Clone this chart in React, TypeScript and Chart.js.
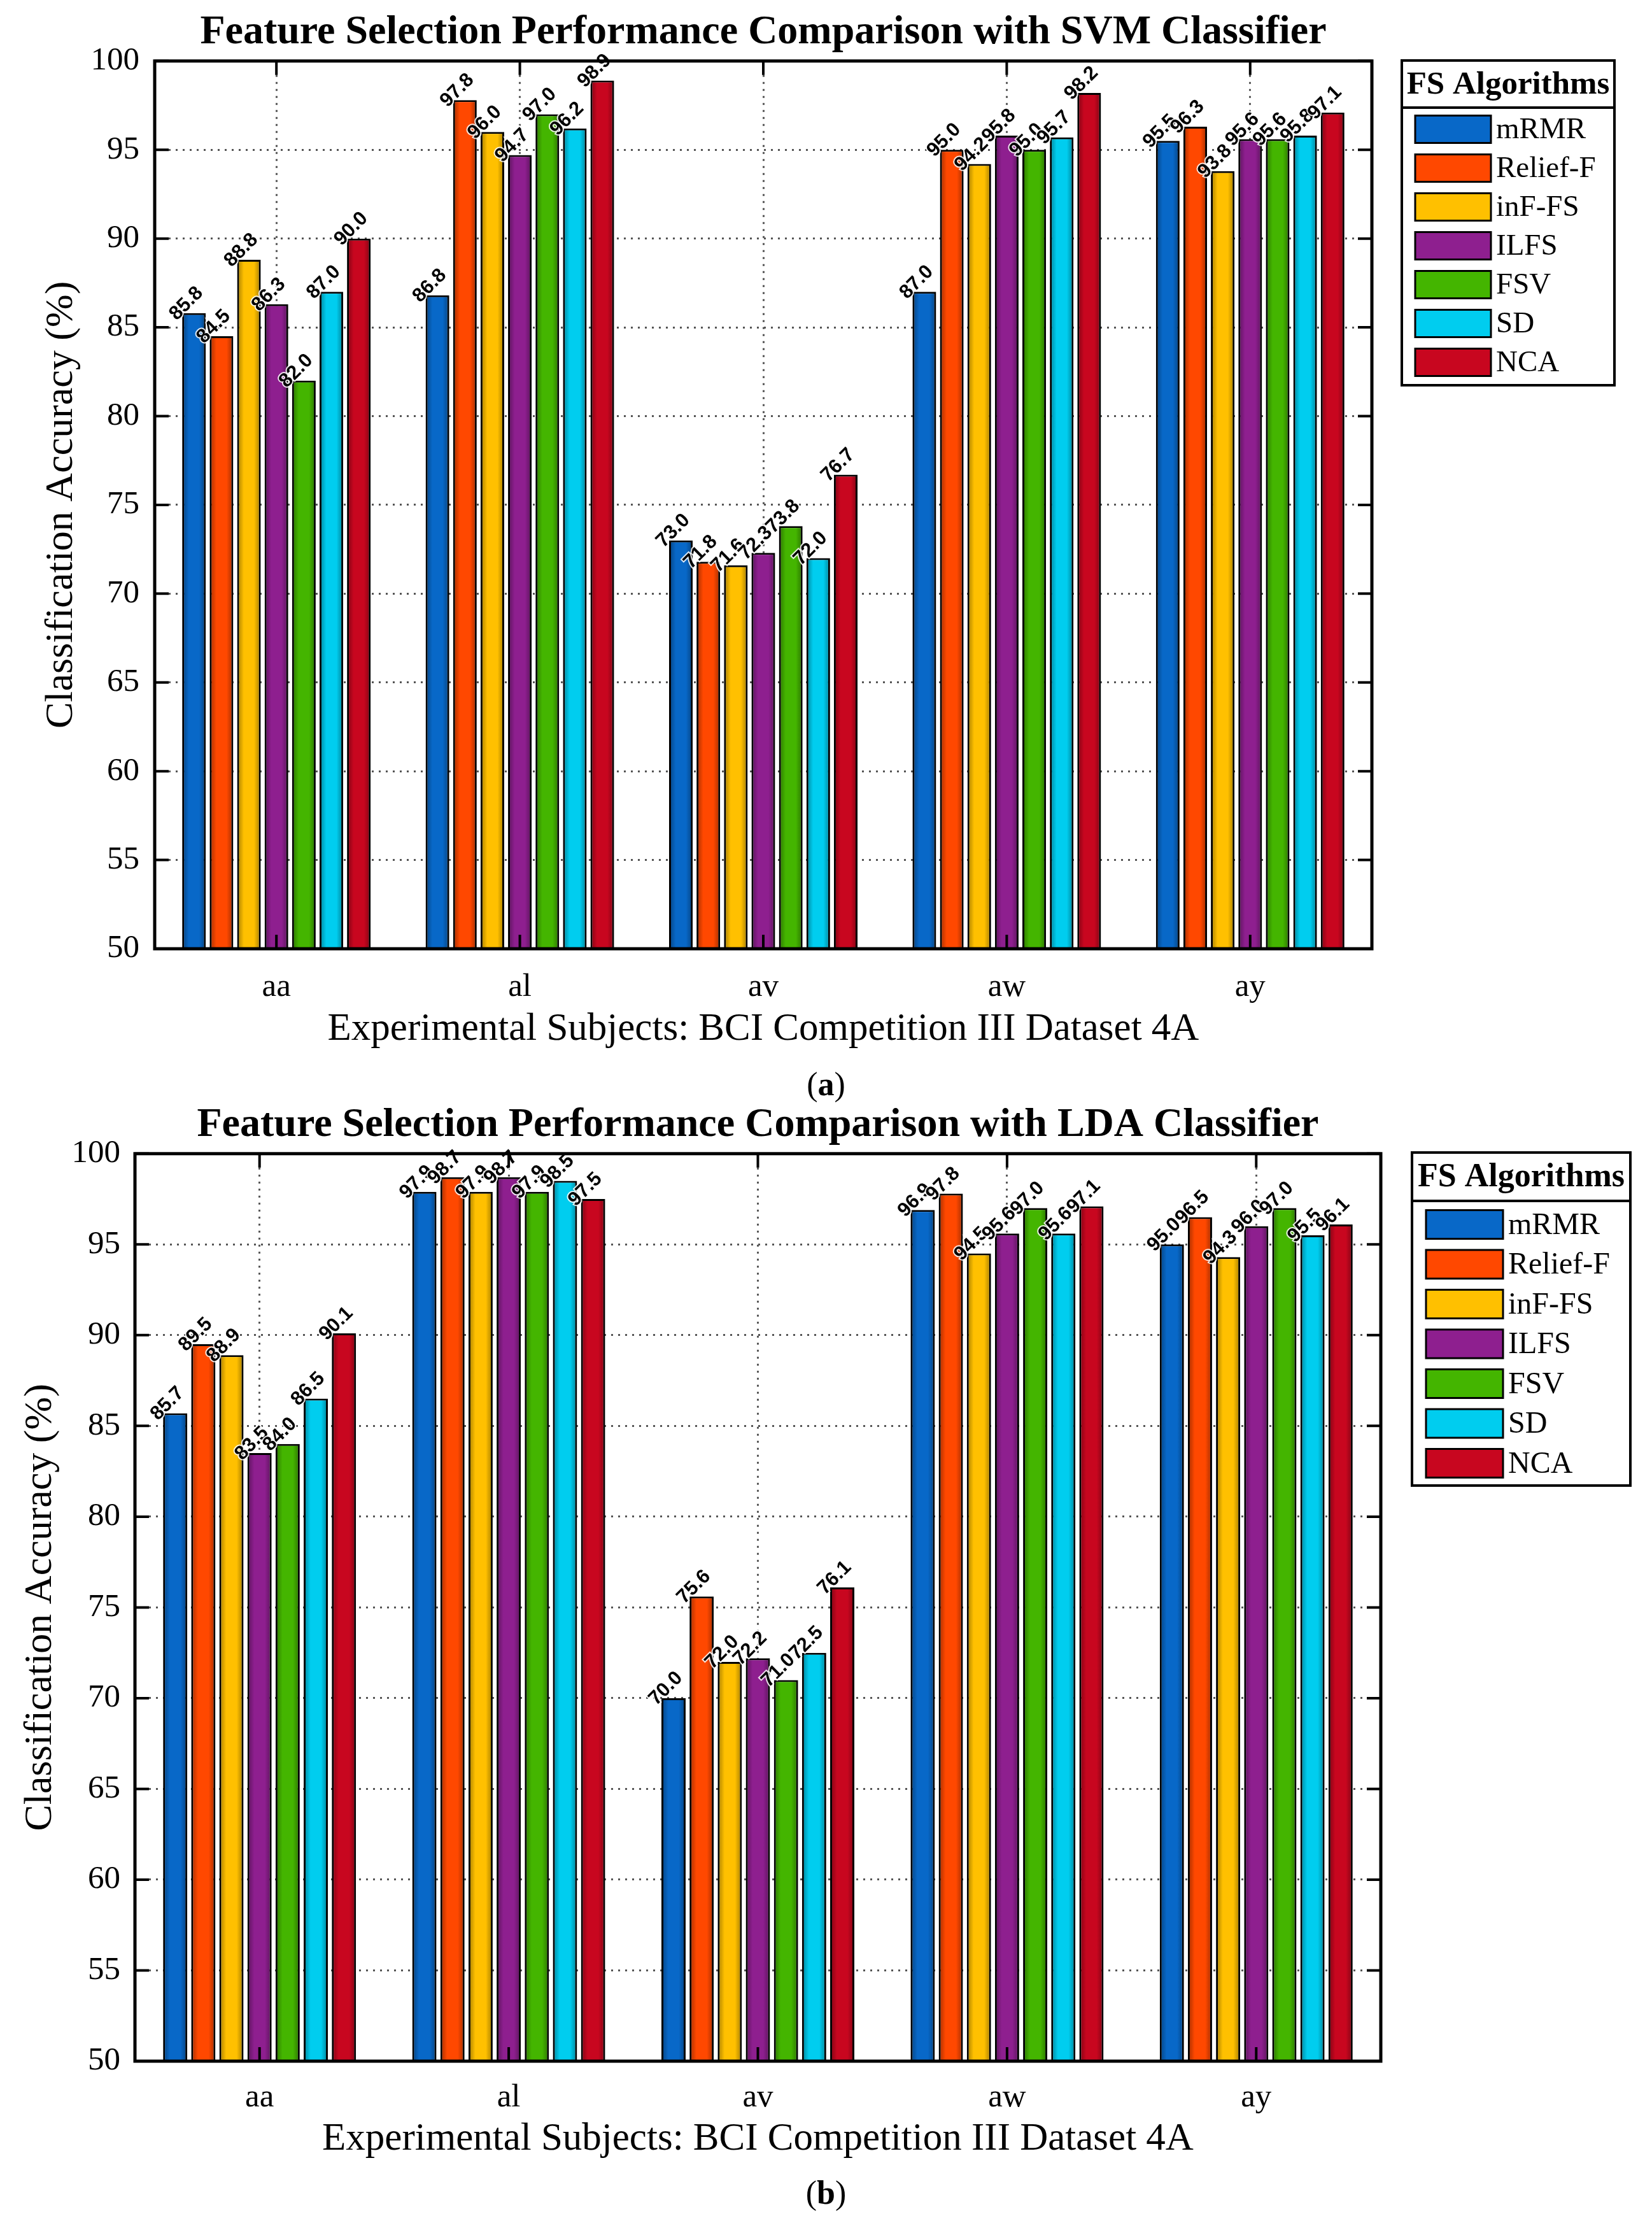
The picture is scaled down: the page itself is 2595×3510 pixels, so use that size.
import React, { useEffect, useRef } from 'react';
import { Chart, registerables } from 'chart.js';

Chart.register(...registerables);

// subjects on the x axis and the feature selection algorithms (series)
const subjects = ['aa', 'al', 'av', 'aw', 'ay'];
const algorithms = ['mRMR', 'Relief-F', 'inF-FS', 'ILFS', 'FSV', 'SD', 'NCA'];
const algorithmColors = ['#0868C8', '#FF4800', '#FFC000', '#8E1F8F', '#44B500', '#00CDEF', '#C8061F'];

// y axis ticks
const yMin = 50;
const yMax = 100;
const yStep = 5;

// (a) SVM classifier accuracy (%) per subject
const svmMrmr = [85.8, 86.8, 73.0, 87.0, 95.5];
const svmReliefF = [84.5, 97.8, 71.8, 95.0, 96.3];
const svmInfFs = [88.8, 96.0, 71.6, 94.2, 93.8];
const svmIlfs = [86.3, 94.7, 72.3, 95.8, 95.6];
const svmFsv = [82.0, 97.0, 73.8, 95.0, 95.6];
const svmSd = [87.0, 96.2, 72.0, 95.7, 95.8];
const svmNca = [90.0, 98.9, 76.7, 98.2, 97.1];

// (b) LDA classifier accuracy (%) per subject
const ldaMrmr = [85.7, 97.9, 70.0, 96.9, 95.0];
const ldaReliefF = [89.5, 98.7, 75.6, 97.8, 96.5];
const ldaInfFs = [88.9, 97.9, 72.0, 94.5, 94.3];
const ldaIlfs = [83.5, 98.7, 72.2, 95.6, 96.0];
const ldaFsv = [84.0, 97.9, 71.0, 97.0, 97.0];
const ldaSd = [86.5, 98.5, 72.5, 95.6, 95.5];
const ldaNca = [90.1, 97.5, 76.1, 97.1, 96.1];

const SERIF = '"Liberation Serif", "Times New Roman", serif';
const SANS = '"Liberation Sans", Arial, sans-serif';

interface LegendBox {
  x: number;
  y: number;
  w: number;
  h: number;
  headerH: number;
  firstRow: number;
  rowH: number;
  swX: number;
  swW: number;
  swH: number;
  textX: number;
  fontSize: number;
}

interface PanelProps {
  title: string;
  series: number[][];
  top: number;
  height: number;
  yWidth: number;
  yTitlePad: number;
  yTickPad: number;
  padRight: number;
  titlePadTop: number;
  titlePadBottom: number;
  xHeight: number;
  xTickPad: number;
  xTitlePadBottom: number;
  legend: LegendBox;
}

const BarPanel: React.FC<PanelProps> = (p) => {
  const canvasRef = useRef<HTMLCanvasElement>(null);

  useEffect(() => {
    if (!canvasRef.current) return;

    // box around the plot, with the short inward tick marks
    const framePlugin = {
      id: 'frame',
      afterDraw(chart: any) {
        const { ctx, chartArea: a, scales } = chart;
        ctx.save();
        ctx.strokeStyle = '#000';
        ctx.lineWidth = 4;
        const tl = 22;
        scales.y.ticks.forEach((_t: any, i: number) => {
          const y = scales.y.getPixelForTick(i);
          ctx.beginPath();
          ctx.moveTo(a.left, y);
          ctx.lineTo(a.left + tl, y);
          ctx.moveTo(a.right, y);
          ctx.lineTo(a.right - tl, y);
          ctx.stroke();
        });
        scales.x.ticks.forEach((_t: any, i: number) => {
          const x = scales.x.getPixelForTick(i);
          ctx.beginPath();
          ctx.moveTo(x, a.top);
          ctx.lineTo(x, a.top + tl);
          ctx.moveTo(x, a.bottom);
          ctx.lineTo(x, a.bottom - tl);
          ctx.stroke();
        });
        ctx.lineWidth = 5;
        ctx.strokeRect(a.left, a.top, a.right - a.left, a.bottom - a.top);
        ctx.restore();
      },
    };

    // soft edge shading on each bar, then the rotated value labels
    const valuePlugin = {
      id: 'values',
      afterDatasetsDraw(chart: any) {
        const { ctx, chartArea: a } = chart;
        ctx.save();
        ctx.beginPath();
        ctx.rect(a.left, a.top, a.right - a.left, a.bottom - a.top);
        ctx.clip();
        chart.data.datasets.forEach((_ds: any, di: number) => {
          chart.getDatasetMeta(di).data.forEach((bar: any) => {
            const left = bar.x - bar.width / 2 + 2.5;
            const w = bar.width - 5;
            const bottom = Math.min(bar.base, a.bottom);
            const g = ctx.createLinearGradient(left, 0, left + w, 0);
            g.addColorStop(0, 'rgba(0,0,0,0.28)');
            g.addColorStop(0.25, 'rgba(0,0,0,0)');
            g.addColorStop(0.75, 'rgba(0,0,0,0)');
            g.addColorStop(1, 'rgba(0,0,0,0.28)');
            ctx.fillStyle = g;
            ctx.fillRect(left, bar.y + 2.5, w, bottom - bar.y - 2.5);
          });
        });
        ctx.restore();

        ctx.save();
        ctx.font = `bold 31px ${SANS}`;
        ctx.textAlign = 'center';
        ctx.textBaseline = 'middle';
        chart.data.datasets.forEach((ds: any, di: number) => {
          const meta = chart.getDatasetMeta(di);
          meta.data.forEach((bar: any, i: number) => {
            const txt = Number(ds.data[i]).toFixed(1);
            ctx.save();
            ctx.translate(bar.x - 12, bar.y - 15);
            ctx.rotate(-Math.PI / 4);
            ctx.lineWidth = 4;
            ctx.strokeStyle = 'rgba(255,255,255,0.85)';
            ctx.strokeText(txt, 0, 0);
            ctx.fillStyle = '#000';
            ctx.fillText(txt, 0, 0);
            ctx.restore();
          });
        });
        ctx.restore();
      },
    };

    // legend box on the right with a header
    const L = p.legend;
    const legendPlugin = {
      id: 'fsLegend',
      afterDraw(chart: any) {
        const { ctx } = chart;
        ctx.save();
        ctx.fillStyle = '#fff';
        ctx.fillRect(L.x, L.y, L.w, L.h);
        ctx.strokeStyle = '#000';
        ctx.lineWidth = 4;
        ctx.strokeRect(L.x, L.y, L.w, L.h);
        ctx.beginPath();
        ctx.moveTo(L.x, L.y + L.headerH);
        ctx.lineTo(L.x + L.w, L.y + L.headerH);
        ctx.stroke();
        ctx.fillStyle = '#000';
        ctx.textBaseline = 'middle';
        ctx.textAlign = 'center';
        ctx.font = `bold ${L.fontSize + 4}px ${SERIF}`;
        ctx.fillText('FS Algorithms', L.x + L.w / 2, L.y + L.headerH / 2 + 2);
        ctx.textAlign = 'left';
        ctx.font = `${L.fontSize}px ${SERIF}`;
        algorithms.forEach((name, i) => {
          const cy = L.firstRow + i * L.rowH;
          ctx.fillStyle = algorithmColors[i];
          ctx.fillRect(L.swX, cy - L.swH / 2, L.swW, L.swH);
          ctx.lineWidth = 3;
          ctx.strokeRect(L.swX, cy - L.swH / 2, L.swW, L.swH);
          ctx.fillStyle = '#000';
          ctx.fillText(name, L.textX, cy + 2);
        });
        ctx.restore();
      },
    };

    const chart = new Chart(canvasRef.current, {
      type: 'bar',
      data: {
        labels: subjects,
        datasets: algorithms.map((name, i) => ({
          label: name,
          data: p.series[i],
          backgroundColor: algorithmColors[i],
          borderColor: '#000',
          borderWidth: 3,
          borderSkipped: false,
          categoryPercentage: 0.79,
          barPercentage: 0.86,
        })),
      },
      options: {
        responsive: false,
        animation: false,
        devicePixelRatio: 1,
        layout: { padding: { left: 0, right: p.padRight, top: 0, bottom: 0 } },
        plugins: {
          legend: { display: false },
          tooltip: { enabled: false },
          title: {
            display: true,
            text: p.title,
            fullSize: false,
            color: '#000',
            font: { family: SERIF, size: 64, weight: 'bold' },
            padding: { top: p.titlePadTop, bottom: p.titlePadBottom },
          },
        },
        scales: {
          x: {
            offset: true,
            afterFit: (scale: any) => {
              scale.height = p.xHeight;
            },
            grid: { offset: false, color: '#555', lineWidth: 3, drawTicks: false },
            border: { display: false, dash: [3, 8] },
            ticks: {
              color: '#000',
              autoSkip: false,
              maxRotation: 0,
              padding: p.xTickPad,
              font: { family: SERIF, size: 51 },
            },
            title: {
              display: true,
              text: 'Experimental Subjects: BCI Competition III Dataset 4A',
              color: '#000',
              font: { family: SERIF, size: 61 },
              padding: { top: 0, bottom: p.xTitlePadBottom },
            },
          },
          y: {
            min: yMin,
            max: yMax,
            afterFit: (scale: any) => {
              scale.width = p.yWidth;
            },
            grid: { color: '#555', lineWidth: 3, drawTicks: false },
            border: { display: false, dash: [3, 8] },
            ticks: {
              stepSize: yStep,
              color: '#000',
              padding: p.yTickPad,
              font: { family: SERIF, size: 51 },
            },
            title: {
              display: true,
              text: 'Classification Accuracy (%)',
              color: '#000',
              font: { family: SERIF, size: 62 },
              padding: { top: p.yTitlePad, bottom: 0 },
            },
          },
        },
      },
      plugins: [framePlugin, valuePlugin, legendPlugin],
    });

    return () => {
      chart.destroy();
    };
  }, [p]);

  return (
    <canvas
      ref={canvasRef}
      width={2595}
      height={p.height}
      style={{ position: 'absolute', left: 0, top: p.top, width: 2595, height: p.height }}
    />
  );
};

const svmSeries = [svmMrmr, svmReliefF, svmInfFs, svmIlfs, svmFsv, svmSd, svmNca];
const ldaSeries = [ldaMrmr, ldaReliefF, ldaInfFs, ldaIlfs, ldaFsv, ldaSd, ldaNca];

const panelA: PanelProps = {
  title: 'Feature Selection Performance Comparison with SVM Classifier',
  series: svmSeries,
  top: 0,
  height: 1665,
  yWidth: 243,
  yTitlePad: 60,
  yTickPad: 24,
  padRight: 440,
  titlePadTop: 13,
  titlePadBottom: 6,
  xHeight: 175,
  xTickPad: 30,
  xTitlePadBottom: 11,
  legend: {
    x: 2202, y: 95, w: 334, h: 510, headerH: 74, firstRow: 203, rowH: 61,
    swX: 2223, swW: 119, swH: 43, textX: 2350, fontSize: 47,
  },
};

const panelB: PanelProps = {
  title: 'Feature Selection Performance Comparison with LDA Classifier',
  series: ldaSeries,
  top: 1700,
  height: 1710,
  yWidth: 212,
  yTitlePad: 27,
  yTickPad: 23,
  padRight: 426,
  titlePadTop: 29,
  titlePadBottom: 6,
  xHeight: 173,
  xTickPad: 27,
  xTitlePadBottom: 13,
  legend: {
    x: 2218, y: 110, w: 343, h: 523, headerH: 76, firstRow: 223, rowH: 62.5,
    swX: 2240, swW: 121, swH: 45, textX: 2369, fontSize: 48,
  },
};

const captionStyle = (top: number): React.CSSProperties => ({
  position: 'absolute',
  left: 0,
  top,
  width: 2595,
  textAlign: 'center',
  fontFamily: SERIF,
  fontSize: 52,
  lineHeight: '60px',
  color: '#000',
});

const App: React.FC = () => {
  return (
    <div style={{ position: 'absolute', left: 0, top: 0, width: 2595, height: 3510, background: '#fff' }}>
      <BarPanel {...panelA} />
      <div style={captionStyle(1673)}>
        (<b>a</b>)
      </div>
      <BarPanel {...panelB} />
      <div style={captionStyle(3414)}>
        (<b>b</b>)
      </div>
    </div>
  );
};

export default App;
